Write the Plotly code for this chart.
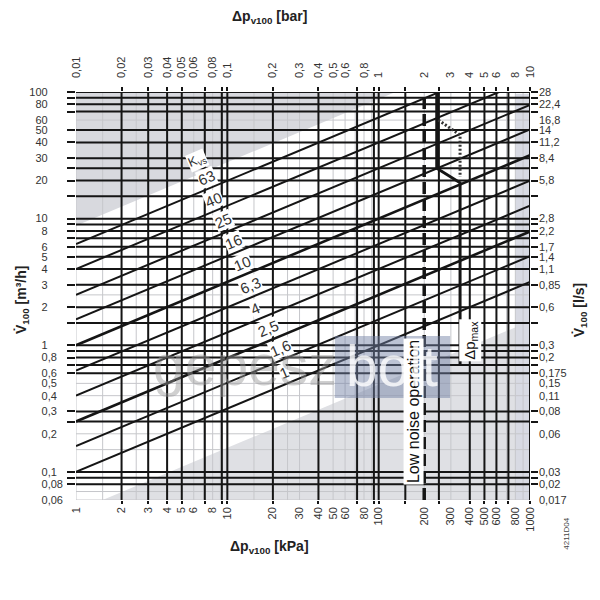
import numpy as np
import plotly.graph_objects as go

# ---------------- data ----------------
kvs_values = [63, 40, 25, 16, 10, 6.3, 4, 2.5, 1.6, 1]
kvs_text = ["63", "40", "25", "16", "10", "6,3", "4", "2,5", "1,6", "1"]
kvs_label_dp = [7.33, 8.11, 9.44, 11.0, 12.5, 14.2, 15.3, 18.6, 22.3, 23.8]   # kPa where each label sits
kvs_width = [2, 2, 2, 2, 2.6, 2, 2, 2.6, 2, 2]

dp_kpa_ticks = [1, 2, 3, 4, 5, 6, 8, 10, 20, 30, 40, 50, 60, 80, 100, 200, 300, 400, 500, 600, 800, 1000]
dp_bar_ticks = [0.01, 0.02, 0.03, 0.04, 0.05, 0.06, 0.08, 0.1, 0.2, 0.3, 0.4, 0.5, 0.6, 0.8, 1, 2, 3, 4, 5, 6, 8, 10]
dp_bar_text = ["0,01", "0,02", "0,03", "0,04", "0,05", "0,06", "0,08", "0,1", "0,2", "0,3", "0,4", "0,5",
               "0,6", "0,8", "1", "2", "3", "4", "5", "6", "8", "10"]
flow_ticks = [0.06, 0.08, 0.1, 0.2, 0.3, 0.4, 0.5, 0.6, 0.8, 1, 2, 3, 4, 5, 6, 8, 10, 20, 30, 40, 50, 60, 80, 100]
flow_m3h_text = ["0,06", "0,08", "0,1", "0,2", "0,3", "0,4", "0,5", "0,6", "0,8", "1", "2", "3", "4", "5", "6",
                 "8", "10", "20", "30", "40", "50", "60", "80", "100"]
flow_ls_text = ["0,017", "0,02", "0,03", "0,06", "0,08", "0,11", "0,15", "0,175", "0,2", "0,3", "0,6", "0,85",
                "1,1", "1,4", "1,7", "2,2", "2,8", "5,8", "8,4", "11,2", "14", "16,8", "22,4", "28"]

thick_dp = [2, 3, 4, 5, 7.1, 9.2, 10, 20, 40, 72, 93, 100, 150, 250, 400, 500, 600, 720, 1000]
thick_flow = [100, 90, 80, 70, 50, 40, 30, 25, 20, 15, 10, 9, 8, 7, 6, 5, 4, 3, 2, 1.5, 1, 0.9, 0.8, 0.7,
              0.6, 0.3, 0.25, 0.1, 0.09, 0.08]
thin_mult = [1, 1.5, 2, 2.5, 3, 4, 5, 6, 7, 8, 9]

low_noise_dp = 200
dpmax_dp = [242, 242, 345, 345]
dpmax_flow = [100, 25, 19.2, 0.70]
dotted_dp = [248, 345, 345]
dotted_flow = [60, 45.8, 21.3]

shade_kvs_upper = 88     # boundary of the upper-left shaded zone
shade_kvs_lower = 0.49   # boundary of the lower-right shaded zone
shade_strip_dp = 800

X_MIN, X_MAX = 1, 1000
Y_MIN, Y_MAX = 0.06, 100

INK = "#151515"
FONT = "Liberation Sans, Arial, sans-serif"


def decimal_pad(label):
    """pad labels so that they line up on the decimal comma"""
    if "," in label:
        return label + "\u2007" * (2 - len(label.split(",")[1]))
    return label + "\u2008" + "\u2007" * 2


fig = go.Figure()

# ---------------- shaded zones ----------------
xu = 100 * (Y_MAX / shade_kvs_upper) ** 2
fig.add_trace(go.Scatter(x=[X_MIN, X_MIN, xu, X_MIN], y=[Y_MAX, shade_kvs_upper * 0.1, Y_MAX, Y_MAX],
                         fill="toself", fillcolor="#d8d9de", line=dict(width=0), mode="lines",
                         hoverinfo="skip", showlegend=False))
xl = 100 * (Y_MIN / shade_kvs_lower) ** 2
fig.add_trace(go.Scatter(x=[xl, X_MAX, X_MAX, xl], y=[Y_MIN, shade_kvs_lower * np.sqrt(X_MAX / 100), Y_MIN, Y_MIN],
                         fill="toself", fillcolor="#dfe0e4", line=dict(width=0), mode="lines",
                         hoverinfo="skip", showlegend=False))
fig.add_trace(go.Scatter(x=[shade_strip_dp, X_MAX, X_MAX, shade_strip_dp, shade_strip_dp],
                         y=[Y_MIN, Y_MIN, 97, 97, Y_MIN],
                         fill="toself", fillcolor="#d8dae3", line=dict(width=0), mode="lines",
                         hoverinfo="skip", showlegend=False))

# ---------------- thin grid ----------------
thin_x = [m * 10 ** d for d in range(0, 3) for m in thin_mult] + [1000]
thin_y = [m * 10 ** d for d in range(-2, 2) for m in thin_mult if Y_MIN <= m * 10 ** d <= Y_MAX] + [100]
gx, gy = [], []
for v in thin_x:
    gx += [v, v, None]; gy += [Y_MIN, Y_MAX, None]
for v in thin_y:
    gx += [X_MIN, X_MAX, None]; gy += [v, v, None]
fig.add_trace(go.Scatter(x=gx, y=gy, mode="lines", line=dict(color="#c6c7cb", width=1),
                         hoverinfo="skip", showlegend=False))

# ---------------- thick grid ----------------
tx, ty = [], []
for v in thick_dp:
    tx += [v, v, None]; ty += [Y_MIN, Y_MAX, None]
for v in thick_flow:
    tx += [X_MIN, X_MAX, None]; ty += [v, v, None]
fig.add_trace(go.Scatter(x=tx, y=ty, mode="lines", line=dict(color=INK, width=2),
                         hoverinfo="skip", showlegend=False))

# ---------------- Kvs lines ----------------
for k, w in zip(kvs_values, kvs_width):
    x_end = min(X_MAX, 100 * (Y_MAX * 1.1 / k) ** 2)
    xs = [X_MIN, x_end]
    ys = [k * np.sqrt(x / 100) for x in xs]
    fig.add_trace(go.Scatter(x=xs, y=ys, mode="lines", line=dict(color=INK, width=w),
                             hoverinfo="skip", showlegend=False))

# ---------------- low noise / dp max ----------------
fig.add_trace(go.Scatter(x=[low_noise_dp, low_noise_dp], y=[Y_MIN, 88], mode="lines",
                         line=dict(color=INK, width=3.5, dash="12px,5px"), hoverinfo="skip", showlegend=False))
fig.add_trace(go.Scatter(x=dpmax_dp, y=dpmax_flow, mode="lines", line=dict(color=INK, width=3),
                         hoverinfo="skip", showlegend=False))
fig.add_trace(go.Scatter(x=dotted_dp, y=dotted_flow, mode="lines", line=dict(color="#333", width=3, dash="2px,2px"),
                         hoverinfo="skip", showlegend=False))

# dummy trace to activate secondary axes
fig.add_trace(go.Scatter(x=[0.1], y=[1], xaxis="x2", yaxis="y2", mode="markers", opacity=0,
                         hoverinfo="skip", showlegend=False))


def A(**kw):
    base = dict(showarrow=False, xanchor="center", yanchor="middle")
    base.update(kw)
    return base


# ---------------- Kvs labels ----------------
ann = []
for k, t, xd in zip(kvs_values, kvs_text, kvs_label_dp):
    yv = k * np.sqrt(xd / 100) * 1.25
    ann.append(A(x=np.log10(xd), y=np.log10(yv), xref="x", yref="y", text=t,
                 textangle=-23, bgcolor="white", borderpad=0,
                 font=dict(family=FONT, size=15, color="#333")))
ann.append(A(x=np.log10(6.3), y=np.log10(29), xref="x", yref="y", text="K<sub>vs</sub>",
             textangle=-23, bgcolor="white", borderpad=0, font=dict(family=FONT, size=13, color="#333")))

# low noise text / dp max text
ann.append(A(x=np.log10(170), y=np.log10(0.30), xref="x", yref="y", text="Low noise operation",
             textangle=-90, bgcolor="white", borderpad=1, font=dict(family=FONT, size=16, color="#111")))
ann.append(A(x=np.log10(400), y=np.log10(1.1), xref="x", yref="y", text="Δp<sub>max</sub>",
             textangle=-90, bgcolor="white", borderpad=1, font=dict(family=FONT, size=15, color="#111")))

# axis titles
ann.append(A(x=0.427, y=-0.115, xref="paper", yref="paper", text="<b>Δp<sub>v100</sub> [kPa]</b>",
             font=dict(family=FONT, size=14, color="#222")))
ann.append(A(x=0.427, y=1.184, xref="paper", yref="paper", text="<b>Δp<sub>v100</sub> [bar]</b>",
             font=dict(family=FONT, size=14, color="#222")))
ann.append(A(x=-0.119, y=0.49, xref="paper", yref="paper", text="<b>V\u0307<sub>100</sub> [m³/h]</b>",
             textangle=-90, font=dict(family=FONT, size=14, color="#222")))
ann.append(A(x=1.11, y=0.465, xref="paper", yref="paper", text="<b>V\u0307<sub>100</sub> [l/s]</b>",
             textangle=-90, font=dict(family=FONT, size=14, color="#222")))
ann.append(A(x=1.081, y=-0.083, xref="paper", yref="paper", text="4211D04",
             textangle=-90, font=dict(family=FONT, size=8, color="#444")))

# watermark
ann.append(A(x=0.372, y=0.331, xref="paper", yref="paper", text="gepesz",
             font=dict(family=FONT, size=57, color="rgba(150,150,150,0.45)")))
ann.append(A(x=0.697, y=0.328, xref="paper", yref="paper", text="bolt",
             font=dict(family=FONT, size=57, color="rgba(255,255,255,0.8)")))

shapes = [dict(type="rect", xref="paper", yref="paper", x0=0.570, x1=0.824, y0=0.25, y1=0.402,
               fillcolor="rgba(115,130,165,0.48)", line=dict(width=0), layer="above")]

tickfont = dict(family=FONT, size=11, color="#333")
fig.update_layout(
    width=592, height=592, margin=dict(l=68, r=70, t=84, b=100),
    paper_bgcolor="white", plot_bgcolor="white", showlegend=False,
    annotations=ann, shapes=shapes,
    xaxis=dict(type="log", range=[np.log10(X_MIN), np.log10(X_MAX)], tickvals=dp_kpa_ticks,
               ticktext=[str(v) for v in dp_kpa_ticks], tickangle=-90, showgrid=False, zeroline=False,
               ticks="", tickfont=tickfont, ticklabelstandoff=4,
               minor=dict(tickvals=thick_dp, ticks="outside", ticklen=3, tickwidth=2, tickcolor=INK, showgrid=False)),
    xaxis2=dict(type="log", range=[-2, 1], overlaying="x", side="top", anchor="y", tickvals=dp_bar_ticks,
                ticktext=dp_bar_text, tickangle=-90, showgrid=False, zeroline=False, ticks="",
                tickfont=tickfont, ticklabelstandoff=13,
                minor=dict(tickvals=[v / 100 for v in thick_dp], ticks="outside", ticklen=4, tickwidth=2,
                           tickcolor=INK, showgrid=False)),
    yaxis=dict(type="log", range=[np.log10(Y_MIN), np.log10(Y_MAX)], tickvals=flow_ticks,
               ticktext=[decimal_pad(t) for t in flow_m3h_text],
               showgrid=False, zeroline=False, ticks="", tickfont=tickfont, ticklabelstandoff=12,
               minor=dict(tickvals=thick_flow, ticks="outside", ticklen=8, tickwidth=2, tickcolor=INK,
                          showgrid=False)),
    yaxis2=dict(type="log", range=[np.log10(Y_MIN), np.log10(Y_MAX)], overlaying="y", side="right", anchor="x",
                tickvals=flow_ticks, ticktext=flow_ls_text, showgrid=False, zeroline=False, ticks="",
                tickfont=tickfont, ticklabelstandoff=8,
                minor=dict(tickvals=thick_flow, ticks="outside", ticklen=7, tickwidth=2, tickcolor=INK,
                           showgrid=False)),
)

fig.write_html("out.html")
